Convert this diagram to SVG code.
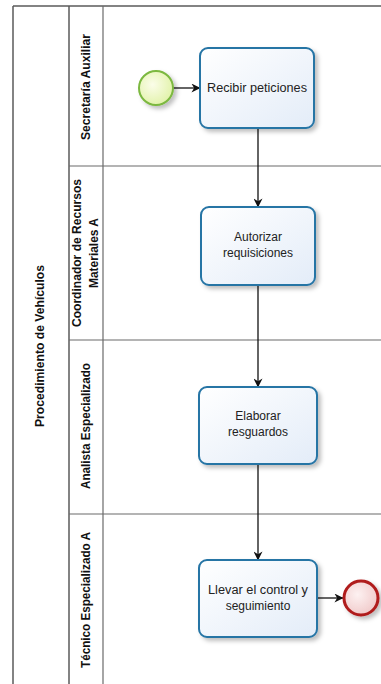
<svg xmlns="http://www.w3.org/2000/svg" width="381" height="684" viewBox="0 0 381 684">
<style>
.pool{stroke:#5a5a5a;stroke-width:1.5;fill:none}
.lane{stroke:#6a6a6a;stroke-width:1.2;fill:none}
.hdr{font-family:"Liberation Sans",Arial,sans-serif;font-weight:bold;font-size:12px;fill:#111;text-anchor:middle}
.task{fill:url(#tg);stroke:#2574a5;stroke-width:2;filter:url(#sh)}
.tt{font-family:"Liberation Sans",Arial,sans-serif;font-size:12px;fill:#222;text-anchor:middle}
.conn{stroke:#111;stroke-width:1.3;fill:none;marker-end:url(#ah)}
</style>
<defs>
<linearGradient id="tg" x1="0" y1="0" x2="1" y2="1">
<stop offset="0" stop-color="#ffffff"/><stop offset="1" stop-color="#e3ecf8"/>
</linearGradient>
<radialGradient id="sg" cx="0.4" cy="0.4" r="0.6">
<stop offset="0" stop-color="#fbfde9"/><stop offset="1" stop-color="#e3f3ad"/>
</radialGradient>
<radialGradient id="eg" cx="0.4" cy="0.4" r="0.6">
<stop offset="0" stop-color="#fdf1f1"/><stop offset="1" stop-color="#f1cccc"/>
</radialGradient>
<filter id="sh" x="-20%" y="-20%" width="150%" height="150%">
<feDropShadow dx="3" dy="3" stdDeviation="2" flood-color="#000" flood-opacity="0.25"/>
</filter>
<marker id="ah" viewBox="0 0 10 10" refX="9.5" refY="5" markerWidth="9" markerHeight="9" markerUnits="userSpaceOnUse" orient="auto">
<path d="M0,0 L10,5 L0,10 L3,5 Z" fill="#111"/>
</marker>
</defs>
<g id="pool">
<line class="pool" x1="13" y1="6" x2="381" y2="6"/>
<line class="pool" x1="13" y1="6" x2="13" y2="684"/>
<line class="pool" x1="69" y1="6" x2="69" y2="684"/>
<line class="lane" x1="103" y1="6" x2="103" y2="684"/>
<text class="hdr" transform="translate(44,346) rotate(-90)" textLength="162" lengthAdjust="spacingAndGlyphs">Procedimiento de Vehículos</text>
</g>
<g id="lane1">
<line class="lane" x1="69" y1="166" x2="381" y2="166"/>
<text class="hdr" transform="translate(90,87) rotate(-90)" textLength="106" lengthAdjust="spacingAndGlyphs">Secretaría Auxiliar</text>
</g>
<g id="lane2">
<line class="lane" x1="69" y1="340" x2="381" y2="340"/>
<text class="hdr" transform="translate(81,253) rotate(-90)" textLength="148" lengthAdjust="spacingAndGlyphs">Coordinador de Recursos</text>
<text class="hdr" transform="translate(98,253) rotate(-90)" textLength="70" lengthAdjust="spacingAndGlyphs">Materiales A</text>
</g>
<g id="lane3">
<line class="lane" x1="69" y1="514" x2="381" y2="514"/>
<text class="hdr" transform="translate(90,426) rotate(-90)" textLength="126" lengthAdjust="spacingAndGlyphs">Analista Especializado</text>
</g>
<g id="lane4">
<text class="hdr" transform="translate(90,600) rotate(-90)" textLength="136" lengthAdjust="spacingAndGlyphs">Técnico Especializado A</text>
</g>
<g id="connectors">
<line class="conn" x1="173" y1="88" x2="200" y2="88"/>
<line class="conn" x1="258" y1="128" x2="258" y2="207"/>
<line class="conn" x1="258" y1="285" x2="258" y2="387"/>
<line class="conn" x1="258" y1="464" x2="258" y2="560"/>
<line class="conn" x1="317" y1="598" x2="343" y2="598"/>
</g>
<g id="start">
<circle cx="156" cy="88" r="17" fill="url(#sg)" stroke="#7bb83f" stroke-width="2" filter="url(#sh)"/>
</g>
<g id="task1">
<rect class="task" x="200" y="48" width="114" height="80" rx="8"/>
<text class="tt" x="257" y="92" textLength="100" lengthAdjust="spacingAndGlyphs">Recibir peticiones</text>
</g>
<g id="task2">
<rect class="task" x="201" y="207" width="114" height="78" rx="8"/>
<text class="tt" x="258" y="241">Autorizar</text>
<text class="tt" x="258" y="257">requisiciones</text>
</g>
<g id="task3">
<rect class="task" x="199" y="387" width="118" height="77" rx="8"/>
<text class="tt" x="258" y="420">Elaborar</text>
<text class="tt" x="258" y="436">resguardos</text>
</g>
<g id="task4">
<rect class="task" x="199" y="560" width="118" height="77" rx="8"/>
<text class="tt" x="258" y="594" textLength="100" lengthAdjust="spacingAndGlyphs">Llevar el control y</text>
<text class="tt" x="258" y="610">seguimiento</text>
</g>
<g id="end">
<circle cx="361" cy="598" r="17" fill="url(#eg)" stroke="#b01c1c" stroke-width="3" filter="url(#sh)"/>
</g>
</svg>
